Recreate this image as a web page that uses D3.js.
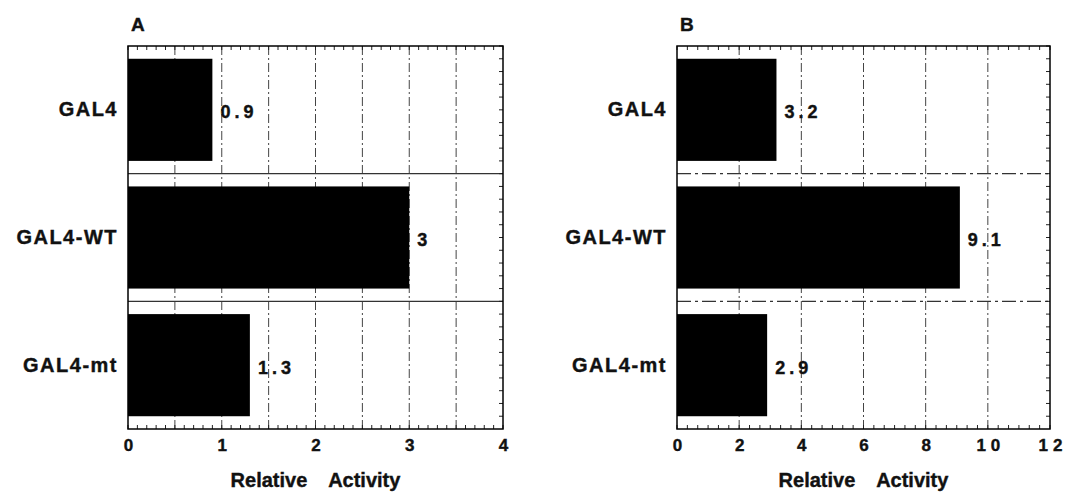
<!DOCTYPE html>
<html>
<head>
<meta charset="utf-8">
<script src="https://cdn.jsdelivr.net/npm/d3@7"></script>
<style>
  body { margin: 0; background: #fff; }
  svg text { font-family: "Liberation Sans", Arial, Helvetica, sans-serif; font-weight: bold; fill: #111; stroke: #111; stroke-width: 0.4; }
</style>
</head>
<body>
<div id="chart"></div>
<script>
// data
var categories = ["GAL4", "GAL4-WT", "GAL4-mt"];
var activityA = [0.9, 3, 1.3];
var activityB = [3.2, 9.1, 2.9];
var valueLabelsA = ["0.9", "3", "1.3"];
var valueLabelsB = ["3.2", "9.1", "2.9"];
var ticksA = [0, 1, 2, 3, 4];
var ticksB = [0, 2, 4, 6, 8, 10, 12];
var gridA = [0.5, 1, 1.5, 2, 2.5, 3, 3.5];
var gridB = [2, 4, 6, 8, 10];

var svg = d3.select("#chart")
	.append("svg")
	.attr("width", 1081)
	.attr("height", 494);

var plotTop = 46, plotBottom = 429;

function drawPanel(p) {
	var g = svg.append("g");

	var xScale = d3.scaleLinear()
		.domain([0, p.max])
		.range([p.left, p.right]);

	var yScale = d3.scaleBand()
		.domain(categories)
		.range([plotTop, plotBottom])
		.paddingInner(0.2)
		.paddingOuter(0.1);

	var step = yScale.step();

	// vertical gridlines
	g.selectAll(".vgrid")
		.data(p.grid)
		.enter()
		.append("line")
		.attr("x1", function(d) { return xScale(d); })
		.attr("x2", function(d) { return xScale(d); })
		.attr("y1", plotTop)
		.attr("y2", plotBottom)
		.attr("stroke", "#444")
		.attr("stroke-width", 1)
		.attr("stroke-dasharray", "9,3,2,3");

	// row separators
	g.selectAll(".hsep")
		.data(categories.slice(1))
		.enter()
		.append("line")
		.attr("x1", p.left)
		.attr("x2", p.right)
		.attr("y1", function(d) { return yScale(d) - step * 0.1; })
		.attr("y2", function(d) { return yScale(d) - step * 0.1; })
		.attr("stroke", "#333")
		.attr("stroke-width", 1.3)
		.attr("stroke-dasharray", p.sepDash);

	// bars
	g.selectAll(".bar")
		.data(p.values)
		.enter()
		.append("rect")
		.attr("x", xScale(0))
		.attr("y", function(d, i) { return yScale(categories[i]); })
		.attr("width", function(d) { return xScale(d) - xScale(0); })
		.attr("height", yScale.bandwidth())
		.attr("fill", "#000");

	// value labels
	g.selectAll(".val")
		.data(p.values)
		.enter()
		.append("text")
		.attr("x", function(d) { return xScale(d) + 8; })
		.attr("y", function(d, i) { return yScale(categories[i]) + yScale.bandwidth() / 2 + 8.5; })
		.attr("font-size", 18)
		.attr("letter-spacing", 4)
		.text(function(d, i) { return p.valueLabels[i]; });

	// category labels
	g.selectAll(".cat")
		.data(categories)
		.enter()
		.append("text")
		.attr("x", p.left - 10)
		.attr("y", function(d) { return yScale(d) + yScale.bandwidth() / 2 + 6.5; })
		.attr("text-anchor", "end")
		.attr("font-size", 20)
		.attr("letter-spacing", 1.5)
		.text(function(d) { return d; });

	// minor ticks top and bottom
	var minor = d3.range(0, p.max + 1e-9, p.minorStep);
	g.selectAll(".mtb")
		.data(minor)
		.enter()
		.append("line")
		.attr("x1", function(d) { return xScale(d); })
		.attr("x2", function(d) { return xScale(d); })
		.attr("y1", plotBottom)
		.attr("y2", plotBottom - 4)
		.attr("stroke", "#222");
	g.selectAll(".mtt")
		.data(minor)
		.enter()
		.append("line")
		.attr("x1", function(d) { return xScale(d); })
		.attr("x2", function(d) { return xScale(d); })
		.attr("y1", plotTop)
		.attr("y2", plotTop + 4)
		.attr("stroke", "#222");

	// right edge ticks
	var rightTicks = d3.range(plotTop, plotBottom, step / 10);
	g.selectAll(".rt")
		.data(rightTicks)
		.enter()
		.append("line")
		.attr("x1", p.right)
		.attr("x2", p.right - 4)
		.attr("y1", function(d) { return d; })
		.attr("y2", function(d) { return d; })
		.attr("stroke", "#222");

	// frame
	g.append("rect")
		.attr("x", p.left)
		.attr("y", plotTop)
		.attr("width", p.right - p.left)
		.attr("height", plotBottom - plotTop)
		.attr("fill", "none")
		.attr("stroke", "#000")
		.attr("stroke-width", 1.5);

	// x axis labels
	var xAxis = d3.axisBottom(xScale)
		.tickValues(p.ticks)
		.tickSize(0)
		.tickFormat(d3.format("d"));
	var ax = g.append("g")
		.attr("transform", "translate(0," + plotBottom + ")")
		.call(xAxis);
	ax.select(".domain").remove();
	ax.selectAll("text")
		.attr("font-size", 17)
		.attr("letter-spacing", 5)
		.attr("dx", 2.5)
		.attr("y", 22)
		.attr("dy", 0)
		.attr("fill", "#111");

	// axis title
	g.append("text")
		.attr("x", (p.left + p.right) / 2)
		.attr("y", 487)
		.attr("text-anchor", "middle")
		.attr("font-size", 20)
		.attr("word-spacing", 16)
		.text("Relative Activity");

	// panel letter
	g.append("text")
		.attr("x", p.left + 3)
		.attr("y", 31)
		.attr("font-size", 19)
		.text(p.letter);
}

drawPanel({ letter: "A", left: 128, right: 503, max: 4, values: activityA, valueLabels: valueLabelsA,
	ticks: ticksA, grid: gridA, minorStep: 0.1, sepDash: null });
drawPanel({ letter: "B", left: 677, right: 1050, max: 12, values: activityB, valueLabels: valueLabelsB,
	ticks: ticksB, grid: gridB, minorStep: 1 / 3, sepDash: "14,4,3,4" });
</script>
</body>
</html>
